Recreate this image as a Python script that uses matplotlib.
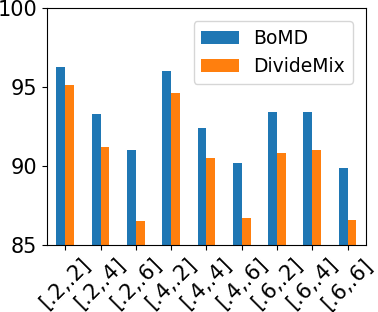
import numpy as np
import matplotlib
matplotlib.use('Agg')
import matplotlib.pyplot as plt

labels = ['[.2,.2]', '[.2,.4]', '[.2,.6]', '[.4,.2]', '[.4,.4]',
          '[.4,.6]', '[.6,.2]', '[.6,.4]', '[.6,.6]']
bomd = [96.3, 93.3, 91.0, 96.0, 92.4, 90.2, 93.4, 93.4, 89.9]
dividemix = [95.1, 91.2, 86.5, 94.6, 90.5, 86.7, 90.8, 91.0, 86.6]

x = np.arange(len(labels))
w = 0.25

fig = plt.figure(figsize=(3.78, 3.12), dpi=100)
ax = fig.add_axes([0.124, 0.215, 0.844, 0.759])
ax.bar(x - w / 2, bomd, w, label='BoMD')
ax.bar(x + w / 2, dividemix, w, label='DivideMix')
ax.set_ylim(85, 100)
ax.set_xlim(-0.52, 8.52)
ax.set_yticks([85, 90, 95, 100])
ax.set_xticks(x)
ax.set_xticklabels(labels, rotation=45)
ax.tick_params(labelsize=15)
ax.legend(loc='upper right', fontsize=13.5, borderaxespad=0.7)
fig.savefig('out.png', dpi=100)
